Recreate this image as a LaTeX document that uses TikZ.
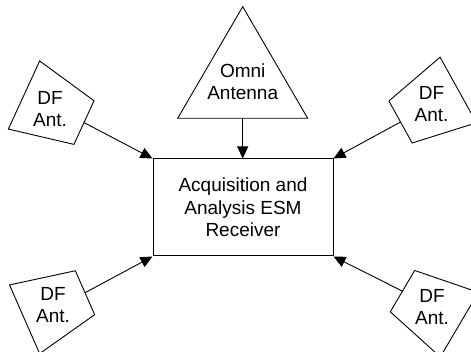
\documentclass[tikz,border=0pt]{standalone}
\usepackage{fontspec}
\setmainfont{Liberation Sans}
\usetikzlibrary{arrows.meta}
\begin{document}
\begin{tikzpicture}[x=1pt,y=1pt,
  lbl/.style={inner sep=0pt,align=center,font=\fontsize{19pt}{22.7pt}\selectfont},
  boxstyle/.style={draw,line width=1pt,minimum width=180pt,minimum height=97pt,inner sep=0pt,align=center,font=\fontsize{19pt}{22.7pt}\selectfont},
  conn/.style={line width=0.9pt,-{Triangle[length=12pt,width=11pt]}},
  outline/.style={draw,line width=0.9pt,line join=miter}]
\clip (0,0) rectangle (471,352);
\fill[white] (0,0) rectangle (471,352);
% receiver
\node[boxstyle] (rx) at (243,144.5) {Acquisition and\\Analysis ESM\\Receiver};
% omni antenna
\draw[outline] (177.7,233.7) -- (242.7,345.3) -- (307.7,233.7) -- cycle;
\coordinate (omnibase) at (242.7,233.7);
\node[lbl] (omni) at (242.7,270.2) {Omni\\Antenna};
% DF antennas
\begin{scope}[shift={(54,243.2)},rotate=-24.7]
  \draw[outline] (-33,-37.5) -- (33,-24) -- (33,24) -- (-33,37.5) -- cycle;
  \coordinate (tlm) at (33,0);
\end{scope}
\begin{scope}[shift={(429.4,246)},rotate=209]
  \draw[outline] (-33,-37.5) -- (33,-24) -- (33,24) -- (-33,37.5) -- cycle;
  \coordinate (trm) at (33,0);
\end{scope}
\begin{scope}[shift={(54.8,46)},rotate=23.7]
  \draw[outline] (-33,-37.5) -- (33,-24) -- (33,24) -- (-33,37.5) -- cycle;
  \coordinate (blm) at (33,0);
\end{scope}
\begin{scope}[shift={(430.9,44.1)},rotate=149.5]
  \draw[outline] (-33,-37.5) -- (33,-24) -- (33,24) -- (-33,37.5) -- cycle;
  \coordinate (brm) at (33,0);
\end{scope}
\node[lbl] (tl) at (50,243) {DF\\Ant.};
\node[lbl] (tr) at (431.5,248) {DF\\Ant.};
\node[lbl] (bl) at (53,47) {DF\\Ant.};
\node[lbl] (br) at (432,45) {DF\\Ant.};
% connectors
\draw[conn] (omnibase) -- (omnibase |- rx.north);
\draw[conn] (tlm) -- (rx.north west);
\draw[conn] (trm) -- (rx.north east);
\draw[conn] (blm) -- (rx.south west);
\draw[conn] (brm) -- (rx.south east);
\end{tikzpicture}
\end{document}
